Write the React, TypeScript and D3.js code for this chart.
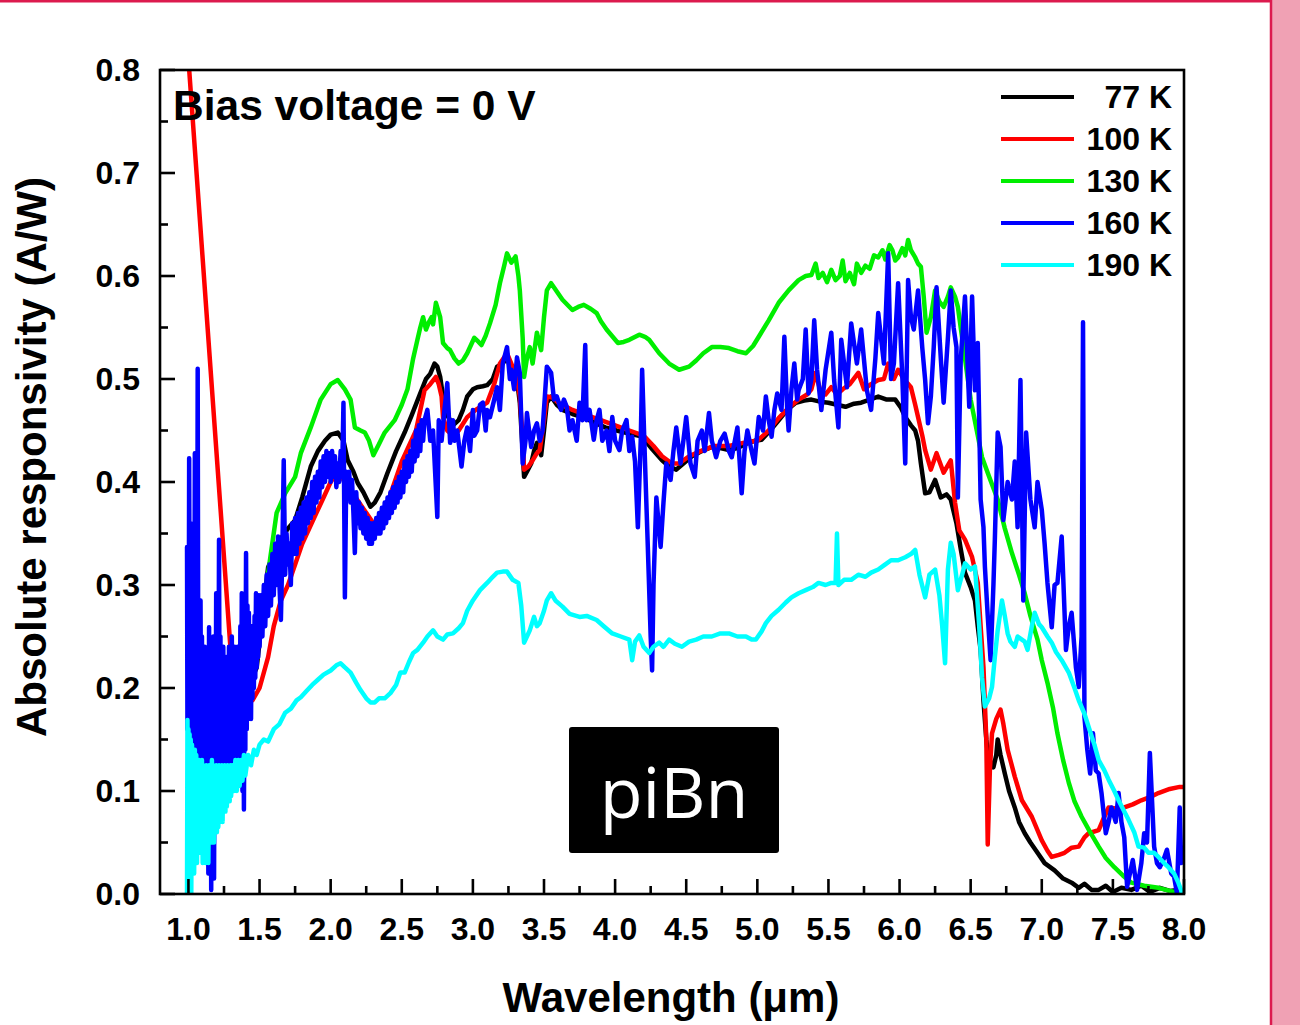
import React from 'react';
import * as d3 from 'd3';

type P = [number, number];

// Wavelength (µm), absolute responsivity (A/W)
const K77: P[] = [
  [1.35, 0.21], [1.42, 0.2], [1.48, 0.22], [1.52, 0.27], [1.56, 0.317], [1.6, 0.33], [1.65, 0.345], [1.7, 0.355],
  [1.75, 0.363], [1.8, 0.385], [1.86, 0.415], [1.91, 0.43], [1.96, 0.44], [2.0, 0.446], [2.05, 0.448], [2.09, 0.44],
  [2.12, 0.421], [2.16, 0.41], [2.19, 0.399], [2.23, 0.39], [2.28, 0.376], [2.31, 0.38], [2.35, 0.39], [2.4, 0.409],
  [2.46, 0.43], [2.52, 0.448], [2.57, 0.465], [2.63, 0.486], [2.67, 0.5], [2.7, 0.505], [2.73, 0.515], [2.75, 0.512],
  [2.77, 0.502], [2.79, 0.483], [2.82, 0.465], [2.86, 0.455], [2.9, 0.46], [2.93, 0.47], [2.96, 0.483], [3.0, 0.49],
  [3.03, 0.492], [3.07, 0.493], [3.1, 0.494], [3.14, 0.5], [3.17, 0.512], [3.21, 0.515], [3.24, 0.521], [3.26, 0.512],
  [3.28, 0.502], [3.31, 0.499], [3.33, 0.477], [3.35, 0.43], [3.36, 0.405], [3.38, 0.41], [3.41, 0.418], [3.43, 0.43],
  [3.45, 0.438], [3.48, 0.426], [3.5, 0.45], [3.52, 0.477], [3.55, 0.483], [3.59, 0.475], [3.63, 0.47], [3.7, 0.466],
  [3.77, 0.463], [3.85, 0.458], [3.93, 0.453], [4.01, 0.45], [4.1, 0.447], [4.19, 0.444], [4.26, 0.432], [4.33, 0.421],
  [4.38, 0.415], [4.43, 0.412], [4.48, 0.418], [4.54, 0.425], [4.61, 0.43], [4.68, 0.434], [4.74, 0.433], [4.8, 0.431],
  [4.86, 0.433], [4.92, 0.437], [4.98, 0.44], [5.03, 0.441], [5.09, 0.45], [5.15, 0.46], [5.21, 0.47], [5.27, 0.477],
  [5.33, 0.479], [5.38, 0.48], [5.44, 0.478], [5.5, 0.477], [5.56, 0.475], [5.62, 0.473], [5.68, 0.476], [5.73, 0.477],
  [5.79, 0.48], [5.85, 0.483], [5.91, 0.48], [5.97, 0.48], [6.01, 0.472], [6.04, 0.463], [6.08, 0.455], [6.11, 0.45],
  [6.13, 0.44], [6.15, 0.418], [6.18, 0.389], [6.21, 0.39], [6.25, 0.402], [6.29, 0.385], [6.33, 0.388], [6.36, 0.383],
  [6.4, 0.36], [6.43, 0.335], [6.46, 0.312], [6.5, 0.298], [6.53, 0.285], [6.55, 0.26], [6.57, 0.237], [6.59, 0.188],
  [6.61, 0.15], [6.62, 0.137], [6.64, 0.128], [6.66, 0.123], [6.68, 0.135], [6.69, 0.15], [6.71, 0.135], [6.74, 0.117],
  [6.77, 0.1], [6.81, 0.084], [6.84, 0.07], [6.88, 0.059], [6.92, 0.05], [6.97, 0.04], [7.02, 0.03], [7.09, 0.023],
  [7.15, 0.015], [7.21, 0.011], [7.26, 0.006], [7.3, 0.01], [7.35, 0.004], [7.4, 0.004], [7.45, 0.008], [7.5, 0.002],
  [7.56, 0.006], [7.63, 0.004], [7.7, 0.008], [7.76, 0.002], [7.83, 0.006], [7.9, 0.003], [7.96, 0.004],
];

const K100: P[] = [
  [0.995, 0.82], [1.3, 0.23], [1.38, 0.2], [1.45, 0.188], [1.5, 0.2], [1.56, 0.23], [1.6, 0.26], [1.65, 0.285],
  [1.7, 0.3], [1.75, 0.32], [1.8, 0.34], [1.85, 0.355], [1.9, 0.37], [1.95, 0.385], [2.0, 0.4], [2.05, 0.41],
  [2.1, 0.4], [2.15, 0.39], [2.2, 0.38], [2.25, 0.37], [2.3, 0.36], [2.35, 0.365], [2.4, 0.38], [2.45, 0.4],
  [2.5, 0.42], [2.55, 0.435], [2.6, 0.45], [2.66, 0.489], [2.7, 0.495], [2.74, 0.502], [2.76, 0.495], [2.78, 0.483],
  [2.79, 0.463], [2.82, 0.45], [2.86, 0.445], [2.9, 0.45], [2.96, 0.463], [3.02, 0.47], [3.1, 0.477], [3.15, 0.495],
  [3.19, 0.515], [3.24, 0.525], [3.27, 0.515], [3.29, 0.508], [3.31, 0.5], [3.33, 0.483], [3.35, 0.44], [3.36, 0.412],
  [3.39, 0.415], [3.42, 0.421], [3.45, 0.428], [3.47, 0.431], [3.5, 0.46], [3.52, 0.483], [3.56, 0.482], [3.6, 0.477],
  [3.7, 0.47], [3.8, 0.465], [3.9, 0.46], [4.0, 0.455], [4.1, 0.45], [4.2, 0.445], [4.27, 0.435], [4.33, 0.425],
  [4.4, 0.418], [4.45, 0.418], [4.52, 0.425], [4.6, 0.43], [4.7, 0.435], [4.8, 0.435], [4.9, 0.438], [5.0, 0.44],
  [5.08, 0.45], [5.15, 0.462], [5.22, 0.472], [5.29, 0.48], [5.35, 0.485], [5.38, 0.49], [5.41, 0.506], [5.44, 0.49],
  [5.48, 0.485], [5.52, 0.492], [5.56, 0.485], [5.6, 0.49], [5.65, 0.495], [5.71, 0.506], [5.75, 0.49], [5.8, 0.495],
  [5.85, 0.499], [5.89, 0.5], [5.92, 0.515], [5.96, 0.5], [5.99, 0.509], [6.03, 0.5], [6.08, 0.492], [6.11, 0.475],
  [6.13, 0.463], [6.16, 0.445], [6.18, 0.431], [6.22, 0.412], [6.26, 0.428], [6.31, 0.409], [6.36, 0.421], [6.39, 0.38],
  [6.42, 0.353], [6.46, 0.344], [6.51, 0.327], [6.55, 0.302], [6.57, 0.26], [6.59, 0.22], [6.61, 0.15], [6.62, 0.048],
  [6.635, 0.12], [6.65, 0.156], [6.68, 0.17], [6.71, 0.179], [6.73, 0.165], [6.76, 0.14], [6.81, 0.114], [6.86, 0.091],
  [6.93, 0.075], [7.0, 0.052], [7.04, 0.042], [7.07, 0.036], [7.12, 0.038], [7.16, 0.04], [7.21, 0.045], [7.26, 0.046],
  [7.3, 0.055], [7.33, 0.059], [7.4, 0.062], [7.44, 0.075], [7.47, 0.084], [7.52, 0.083], [7.58, 0.084], [7.64, 0.087],
  [7.7, 0.091], [7.76, 0.094], [7.82, 0.098], [7.9, 0.102], [7.97, 0.104], [8.0, 0.104],
];

const K130: P[] = [
  [1.4, 0.22], [1.47, 0.26], [1.54, 0.292], [1.58, 0.331], [1.62, 0.37], [1.68, 0.389], [1.75, 0.405], [1.79, 0.428],
  [1.86, 0.453], [1.93, 0.48], [2.0, 0.495], [2.05, 0.499], [2.1, 0.49], [2.14, 0.48], [2.17, 0.453], [2.21, 0.45],
  [2.24, 0.448], [2.27, 0.44], [2.3, 0.426], [2.34, 0.437], [2.38, 0.448], [2.45, 0.46], [2.5, 0.475], [2.54, 0.49],
  [2.58, 0.52], [2.61, 0.538], [2.63, 0.55], [2.65, 0.56], [2.67, 0.548], [2.69, 0.555], [2.71, 0.56], [2.72, 0.553],
  [2.74, 0.574], [2.77, 0.56], [2.79, 0.535], [2.82, 0.53], [2.84, 0.528], [2.87, 0.52], [2.9, 0.515], [2.93, 0.518],
  [2.96, 0.525], [3.01, 0.54], [3.04, 0.536], [3.06, 0.533], [3.09, 0.542], [3.12, 0.554], [3.16, 0.572], [3.19, 0.593],
  [3.22, 0.61], [3.24, 0.622], [3.27, 0.613], [3.3, 0.619], [3.32, 0.6], [3.33, 0.586], [3.35, 0.54], [3.36, 0.502],
  [3.38, 0.52], [3.4, 0.531], [3.42, 0.515], [3.45, 0.545], [3.48, 0.528], [3.5, 0.56], [3.52, 0.586], [3.55, 0.593],
  [3.59, 0.585], [3.63, 0.577], [3.7, 0.567], [3.74, 0.57], [3.78, 0.572], [3.83, 0.568], [3.87, 0.564], [3.9, 0.556],
  [3.94, 0.548], [4.02, 0.535], [4.06, 0.536], [4.1, 0.538], [4.17, 0.543], [4.21, 0.541], [4.24, 0.538], [4.31, 0.525],
  [4.38, 0.515], [4.45, 0.509], [4.52, 0.512], [4.57, 0.518], [4.62, 0.525], [4.68, 0.531], [4.74, 0.531], [4.8, 0.53],
  [4.86, 0.527], [4.92, 0.525], [4.97, 0.532], [5.01, 0.541], [5.08, 0.557], [5.15, 0.574], [5.22, 0.586], [5.29, 0.596],
  [5.34, 0.6], [5.38, 0.601], [5.41, 0.612], [5.43, 0.598], [5.46, 0.603], [5.49, 0.594], [5.52, 0.606], [5.55, 0.596],
  [5.58, 0.6], [5.6, 0.615], [5.62, 0.595], [5.65, 0.603], [5.68, 0.592], [5.7, 0.612], [5.73, 0.603], [5.76, 0.61],
  [5.79, 0.607], [5.82, 0.62], [5.85, 0.618], [5.88, 0.625], [5.9, 0.616], [5.93, 0.63], [5.95, 0.625], [5.97, 0.615],
  [5.99, 0.618], [6.02, 0.627], [6.04, 0.62], [6.06, 0.635], [6.08, 0.625], [6.11, 0.618], [6.13, 0.612], [6.15, 0.609],
  [6.17, 0.58], [6.19, 0.545], [6.22, 0.56], [6.25, 0.586], [6.28, 0.575], [6.31, 0.57], [6.34, 0.58], [6.36, 0.589],
  [6.39, 0.58], [6.41, 0.57], [6.45, 0.53], [6.5, 0.48], [6.55, 0.445], [6.58, 0.424], [6.63, 0.405], [6.69, 0.383],
  [6.74, 0.355], [6.79, 0.331], [6.84, 0.31], [6.88, 0.292], [6.92, 0.27], [6.97, 0.247], [7.0, 0.227], [7.04, 0.205],
  [7.08, 0.18], [7.11, 0.156], [7.15, 0.13], [7.19, 0.108], [7.23, 0.09], [7.28, 0.075], [7.34, 0.06], [7.4, 0.046],
  [7.45, 0.035], [7.51, 0.026], [7.57, 0.018], [7.63, 0.011], [7.72, 0.008], [7.82, 0.006], [7.9, 0.003], [7.97, 0.001],
];

const K160: P[] = [
  [0.99, 0.337], [0.993, 0.16], [0.997, 0.3], [1.0, 0.1], [1.005, 0.423], [1.01, 0.15], [1.015, 0.36], [1.02, 0.12],
  [1.025, 0.3], [1.03, 0.14], [1.035, 0.33], [1.04, 0.11], [1.045, 0.428], [1.05, 0.13], [1.055, 0.32], [1.06, 0.12],
  [1.065, 0.51], [1.07, 0.12], [1.075, 0.28], [1.08, 0.1], [1.085, 0.285], [1.09, 0.09], [1.095, 0.25], [1.1, 0.05],
  [1.105, 0.22], [1.11, 0.08], [1.115, 0.24], [1.12, 0.04], [1.125, 0.2], [1.13, 0.06], [1.135, 0.23], [1.14, 0.02],
  [1.145, 0.259], [1.15, 0.05], [1.155, 0.2], [1.16, 0.004], [1.165, 0.23], [1.17, 0.06], [1.175, 0.25], [1.18, 0.015],
  [1.185, 0.21], [1.19, 0.09], [1.195, 0.292], [1.2, 0.11], [1.205, 0.26], [1.21, 0.12], [1.215, 0.344], [1.22, 0.11],
  [1.225, 0.25], [1.23, 0.12], [1.235, 0.22], [1.24, 0.11], [1.245, 0.24], [1.25, 0.13], [1.255, 0.2], [1.26, 0.11],
  [1.265, 0.23], [1.27, 0.12], [1.275, 0.21], [1.28, 0.1], [1.285, 0.24], [1.29, 0.12], [1.295, 0.22], [1.3, 0.13],
  [1.305, 0.25], [1.31, 0.11], [1.315, 0.23], [1.32, 0.12], [1.325, 0.24], [1.33, 0.13], [1.335, 0.22], [1.34, 0.12],
  [1.345, 0.24], [1.35, 0.14], [1.355, 0.23], [1.36, 0.13], [1.365, 0.26], [1.37, 0.12], [1.375, 0.292], [1.38, 0.1],
  [1.385, 0.27], [1.39, 0.082], [1.395, 0.22], [1.4, 0.14], [1.405, 0.331], [1.41, 0.16], [1.415, 0.28], [1.42, 0.17],
  [1.425, 0.273], [1.43, 0.18], [1.435, 0.25], [1.44, 0.17], [1.445, 0.26], [1.45, 0.19], [1.455, 0.253], [1.46, 0.2],
  [1.465, 0.27], [1.47, 0.21], [1.475, 0.292], [1.48, 0.22], [1.485, 0.28], [1.49, 0.23], [1.495, 0.29], [1.5, 0.24],
  [1.51, 0.29], [1.52, 0.25], [1.53, 0.3], [1.54, 0.26], [1.55, 0.31], [1.56, 0.27], [1.57, 0.32], [1.58, 0.28],
  [1.59, 0.33], [1.6, 0.29], [1.61, 0.34], [1.62, 0.3], [1.63, 0.347], [1.64, 0.3], [1.65, 0.266], [1.66, 0.33],
  [1.67, 0.421], [1.68, 0.31], [1.69, 0.35], [1.7, 0.32], [1.71, 0.34], [1.72, 0.3], [1.73, 0.36], [1.74, 0.33],
  [1.75, 0.365], [1.76, 0.33], [1.77, 0.37], [1.78, 0.34], [1.79, 0.375], [1.8, 0.345], [1.81, 0.38], [1.82, 0.35],
  [1.83, 0.385], [1.84, 0.36], [1.85, 0.39], [1.86, 0.365], [1.87, 0.4], [1.88, 0.37], [1.89, 0.405], [1.9, 0.38],
  [1.91, 0.41], [1.92, 0.385], [1.93, 0.42], [1.94, 0.395], [1.95, 0.425], [1.96, 0.4], [1.97, 0.43], [1.98, 0.405],
  [1.99, 0.428], [2.0, 0.4], [2.01, 0.43], [2.02, 0.405], [2.03, 0.425], [2.04, 0.395], [2.05, 0.418], [2.06, 0.4],
  [2.07, 0.43], [2.08, 0.405], [2.09, 0.477], [2.1, 0.288], [2.11, 0.41], [2.12, 0.39], [2.13, 0.41], [2.14, 0.38],
  [2.15, 0.402], [2.16, 0.37], [2.17, 0.331], [2.18, 0.39], [2.19, 0.36], [2.2, 0.38], [2.21, 0.355], [2.22, 0.375],
  [2.23, 0.35], [2.24, 0.37], [2.25, 0.345], [2.26, 0.365], [2.27, 0.34], [2.28, 0.36], [2.29, 0.34], [2.3, 0.36],
  [2.31, 0.345], [2.32, 0.365], [2.33, 0.35], [2.34, 0.37], [2.35, 0.35], [2.36, 0.375], [2.37, 0.355], [2.38, 0.38],
  [2.39, 0.36], [2.4, 0.385], [2.41, 0.365], [2.42, 0.39], [2.43, 0.37], [2.44, 0.395], [2.45, 0.375], [2.46, 0.4],
  [2.47, 0.38], [2.48, 0.405], [2.49, 0.385], [2.5, 0.41], [2.51, 0.39], [2.52, 0.42], [2.53, 0.4], [2.54, 0.425],
  [2.55, 0.405], [2.56, 0.43], [2.57, 0.41], [2.58, 0.44], [2.59, 0.42], [2.6, 0.45], [2.61, 0.425], [2.62, 0.455],
  [2.63, 0.43], [2.64, 0.46], [2.65, 0.44], [2.66, 0.46], [2.68, 0.47], [2.7, 0.44], [2.72, 0.45], [2.75, 0.366],
  [2.76, 0.46], [2.78, 0.44], [2.8, 0.47], [2.82, 0.496], [2.84, 0.438], [2.86, 0.46], [2.87, 0.44], [2.89, 0.45],
  [2.92, 0.415], [2.94, 0.44], [2.96, 0.453], [2.98, 0.43], [3.0, 0.47], [3.01, 0.445], [3.03, 0.45], [3.05, 0.475],
  [3.07, 0.477], [3.09, 0.45], [3.1, 0.47], [3.12, 0.463], [3.15, 0.48], [3.17, 0.492], [3.19, 0.47], [3.21, 0.515],
  [3.24, 0.531], [3.26, 0.5], [3.27, 0.509], [3.29, 0.49], [3.31, 0.521], [3.33, 0.506], [3.35, 0.418], [3.37, 0.44],
  [3.38, 0.467], [3.41, 0.434], [3.43, 0.45], [3.45, 0.457], [3.47, 0.44], [3.49, 0.45], [3.52, 0.512], [3.55, 0.506],
  [3.57, 0.48], [3.59, 0.483], [3.62, 0.47], [3.64, 0.48], [3.66, 0.473], [3.68, 0.45], [3.7, 0.46], [3.73, 0.44],
  [3.75, 0.477], [3.77, 0.46], [3.79, 0.533], [3.8, 0.46], [3.82, 0.47], [3.85, 0.441], [3.87, 0.46], [3.89, 0.47],
  [3.91, 0.44], [3.94, 0.45], [3.96, 0.43], [3.98, 0.463], [4.0, 0.44], [4.03, 0.431], [4.05, 0.45], [4.08, 0.46],
  [4.1, 0.43], [4.12, 0.444], [4.14, 0.42], [4.16, 0.356], [4.18, 0.44], [4.19, 0.509], [4.21, 0.42], [4.23, 0.337],
  [4.25, 0.25], [4.26, 0.217], [4.27, 0.3], [4.29, 0.385], [4.32, 0.337], [4.34, 0.38], [4.36, 0.418], [4.39, 0.402],
  [4.41, 0.43], [4.43, 0.453], [4.46, 0.418], [4.48, 0.44], [4.5, 0.463], [4.53, 0.418], [4.56, 0.405], [4.58, 0.44],
  [4.61, 0.45], [4.63, 0.43], [4.66, 0.467], [4.68, 0.44], [4.71, 0.424], [4.74, 0.44], [4.77, 0.447], [4.8, 0.43],
  [4.82, 0.424], [4.86, 0.453], [4.89, 0.389], [4.91, 0.43], [4.93, 0.45], [4.96, 0.43], [4.98, 0.418], [5.01, 0.463],
  [5.04, 0.45], [5.06, 0.483], [5.08, 0.46], [5.1, 0.444], [5.12, 0.47], [5.14, 0.486], [5.17, 0.47], [5.19, 0.541],
  [5.21, 0.47], [5.22, 0.45], [5.24, 0.49], [5.26, 0.515], [5.28, 0.48], [5.29, 0.489], [5.32, 0.5], [5.34, 0.548],
  [5.36, 0.486], [5.38, 0.5], [5.4, 0.557], [5.42, 0.509], [5.45, 0.47], [5.48, 0.509], [5.52, 0.545], [5.54, 0.499],
  [5.57, 0.453], [5.59, 0.538], [5.63, 0.492], [5.66, 0.554], [5.7, 0.515], [5.73, 0.548], [5.77, 0.489], [5.8, 0.47],
  [5.83, 0.52], [5.85, 0.564], [5.89, 0.515], [5.92, 0.622], [5.94, 0.5], [5.96, 0.515], [5.99, 0.593], [6.02, 0.5],
  [6.04, 0.418], [6.06, 0.596], [6.08, 0.56], [6.1, 0.548], [6.13, 0.586], [6.16, 0.53], [6.18, 0.499], [6.2, 0.457],
  [6.22, 0.483], [6.24, 0.53], [6.26, 0.589], [6.29, 0.52], [6.31, 0.477], [6.34, 0.54], [6.36, 0.586], [6.38, 0.55],
  [6.4, 0.531], [6.41, 0.385], [6.43, 0.518], [6.46, 0.58], [6.49, 0.473], [6.51, 0.58], [6.53, 0.489], [6.55, 0.535],
  [6.57, 0.383], [6.59, 0.356], [6.6, 0.318], [6.62, 0.27], [6.64, 0.227], [6.66, 0.3], [6.67, 0.344], [6.69, 0.448],
  [6.71, 0.434], [6.73, 0.363], [6.76, 0.4], [6.79, 0.383], [6.81, 0.42], [6.83, 0.356], [6.85, 0.499], [6.87, 0.285],
  [6.89, 0.448], [6.92, 0.383], [6.95, 0.356], [6.97, 0.4], [7.0, 0.373], [7.02, 0.34], [7.04, 0.302], [7.07, 0.259],
  [7.09, 0.3], [7.11, 0.302], [7.14, 0.347], [7.17, 0.237], [7.19, 0.26], [7.21, 0.273], [7.24, 0.22], [7.26, 0.201],
  [7.28, 0.25], [7.29, 0.555], [7.3, 0.172], [7.32, 0.14], [7.34, 0.117], [7.36, 0.156], [7.38, 0.12], [7.4, 0.117],
  [7.42, 0.098], [7.45, 0.059], [7.47, 0.07], [7.49, 0.084], [7.52, 0.07], [7.54, 0.098], [7.56, 0.07], [7.58, 0.055],
  [7.6, 0.007], [7.62, 0.02], [7.64, 0.033], [7.67, 0.004], [7.7, 0.03], [7.72, 0.059], [7.74, 0.05], [7.76, 0.137],
  [7.79, 0.046], [7.81, 0.03], [7.83, 0.026], [7.86, 0.035], [7.88, 0.043], [7.91, 0.02], [7.93, 0.017], [7.95, 0.001],
  [7.97, 0.084], [7.98, 0.03],
];

const K190: P[] = [
  [0.99, 0.0], [0.993, 0.169], [0.996, 0.02], [1.0, 0.16], [1.004, 0.0], [1.008, 0.155], [1.012, 0.03], [1.016, 0.15],
  [1.02, 0.0], [1.025, 0.145], [1.03, 0.03], [1.035, 0.14], [1.04, 0.02], [1.045, 0.14], [1.05, 0.04], [1.055, 0.135],
  [1.06, 0.03], [1.065, 0.13], [1.07, 0.05], [1.075, 0.13], [1.08, 0.04], [1.085, 0.125], [1.09, 0.05], [1.095, 0.13],
  [1.1, 0.03], [1.105, 0.125], [1.11, 0.04], [1.115, 0.12], [1.12, 0.03], [1.125, 0.125], [1.13, 0.05], [1.135, 0.12],
  [1.14, 0.03], [1.145, 0.125], [1.15, 0.06], [1.155, 0.12], [1.16, 0.05], [1.165, 0.13], [1.17, 0.06], [1.175, 0.125],
  [1.18, 0.05], [1.185, 0.12], [1.19, 0.07], [1.195, 0.125], [1.2, 0.06], [1.205, 0.12], [1.21, 0.065], [1.215, 0.125],
  [1.22, 0.07], [1.225, 0.12], [1.23, 0.075], [1.235, 0.125], [1.24, 0.07], [1.245, 0.12], [1.25, 0.08], [1.255, 0.125],
  [1.26, 0.08], [1.265, 0.12], [1.27, 0.085], [1.275, 0.125], [1.28, 0.09], [1.285, 0.12], [1.29, 0.09], [1.295, 0.125],
  [1.3, 0.095], [1.31, 0.125], [1.32, 0.1], [1.33, 0.13], [1.34, 0.1], [1.35, 0.13], [1.36, 0.105], [1.37, 0.13],
  [1.38, 0.11], [1.39, 0.135], [1.4, 0.115], [1.42, 0.135], [1.44, 0.125], [1.46, 0.14], [1.48, 0.135], [1.5, 0.145],
  [1.53, 0.15], [1.56, 0.148], [1.6, 0.16], [1.64, 0.165], [1.68, 0.176], [1.72, 0.18], [1.76, 0.188], [1.79, 0.191],
  [1.83, 0.197], [1.87, 0.203], [1.91, 0.208], [1.95, 0.213], [2.0, 0.217], [2.04, 0.222], [2.07, 0.224], [2.1, 0.22],
  [2.14, 0.215], [2.18, 0.205], [2.21, 0.198], [2.25, 0.19], [2.28, 0.186], [2.31, 0.186], [2.34, 0.19], [2.38, 0.19],
  [2.42, 0.195], [2.46, 0.203], [2.49, 0.215], [2.52, 0.215], [2.55, 0.225], [2.58, 0.234], [2.61, 0.237], [2.65, 0.244],
  [2.68, 0.25], [2.72, 0.256], [2.75, 0.25], [2.79, 0.247], [2.82, 0.252], [2.86, 0.253], [2.9, 0.258], [2.93, 0.263],
  [2.96, 0.275], [3.0, 0.285], [3.05, 0.295], [3.1, 0.302], [3.14, 0.308], [3.17, 0.312], [3.21, 0.313], [3.24, 0.313],
  [3.28, 0.305], [3.32, 0.302], [3.34, 0.28], [3.36, 0.244], [3.38, 0.25], [3.4, 0.256], [3.43, 0.269], [3.45, 0.26],
  [3.47, 0.263], [3.5, 0.275], [3.52, 0.285], [3.55, 0.292], [3.58, 0.285], [3.63, 0.279], [3.68, 0.272], [3.75, 0.269],
  [3.8, 0.27], [3.87, 0.266], [3.92, 0.26], [3.98, 0.253], [4.04, 0.25], [4.1, 0.247], [4.12, 0.227], [4.14, 0.245],
  [4.17, 0.251], [4.2, 0.24], [4.24, 0.234], [4.27, 0.24], [4.31, 0.244], [4.34, 0.24], [4.38, 0.247], [4.42, 0.243],
  [4.47, 0.24], [4.52, 0.245], [4.57, 0.247], [4.62, 0.25], [4.68, 0.25], [4.74, 0.253], [4.8, 0.253], [4.86, 0.25],
  [4.92, 0.25], [4.96, 0.247], [4.99, 0.247], [5.03, 0.255], [5.06, 0.263], [5.1, 0.27], [5.15, 0.276], [5.2, 0.283],
  [5.24, 0.288], [5.29, 0.292], [5.34, 0.295], [5.39, 0.298], [5.43, 0.302], [5.48, 0.3], [5.52, 0.302], [5.55, 0.302],
  [5.56, 0.35], [5.57, 0.3], [5.61, 0.305], [5.66, 0.305], [5.71, 0.31], [5.76, 0.308], [5.8, 0.312], [5.85, 0.315],
  [5.9, 0.32], [5.94, 0.324], [5.99, 0.324], [6.04, 0.327], [6.08, 0.33], [6.11, 0.334], [6.14, 0.31], [6.18, 0.288],
  [6.21, 0.31], [6.25, 0.315], [6.28, 0.29], [6.3, 0.26], [6.32, 0.224], [6.34, 0.315], [6.36, 0.341], [6.38, 0.33],
  [6.41, 0.295], [6.44, 0.31], [6.46, 0.321], [6.5, 0.315], [6.53, 0.318], [6.56, 0.26], [6.58, 0.21], [6.6, 0.182],
  [6.63, 0.19], [6.65, 0.201], [6.67, 0.23], [6.69, 0.256], [6.72, 0.285], [6.74, 0.27], [6.76, 0.253], [6.78, 0.245],
  [6.81, 0.24], [6.83, 0.25], [6.86, 0.247], [6.88, 0.245], [6.9, 0.237], [6.93, 0.26], [6.95, 0.273], [6.98, 0.262],
  [7.0, 0.259], [7.04, 0.25], [7.07, 0.244], [7.1, 0.235], [7.14, 0.227], [7.19, 0.215], [7.23, 0.2], [7.26, 0.188],
  [7.3, 0.175], [7.33, 0.162], [7.37, 0.145], [7.4, 0.13], [7.44, 0.12], [7.47, 0.111], [7.51, 0.1], [7.54, 0.091],
  [7.58, 0.08], [7.61, 0.072], [7.65, 0.06], [7.68, 0.046], [7.72, 0.045], [7.75, 0.04], [7.79, 0.04], [7.82, 0.036],
  [7.86, 0.03], [7.89, 0.026], [7.93, 0.02], [7.96, 0.011], [7.99, 0.0],
];

const SERIES_LABELS = ['77 K', '100 K', '130 K', '160 K', '190 K'];
const SERIES_COLORS = ['#000000', '#ff0000', '#00ee00', '#0000ff', '#00ffff'];
const SERIES_DATA = [K77, K100, K130, K160, K190];

const X_TICKS = [1.0, 1.5, 2.0, 2.5, 3.0, 3.5, 4.0, 4.5, 5.0, 5.5, 6.0, 6.5, 7.0, 7.5, 8.0];
const X_MINOR = [1.25, 1.75, 2.25, 2.75, 3.25, 3.75, 4.25, 4.75, 5.25, 5.75, 6.25, 6.75, 7.25, 7.75];
const Y_TICKS = [0.0, 0.1, 0.2, 0.3, 0.4, 0.5, 0.6, 0.7, 0.8];
const Y_MINOR = [0.05, 0.15, 0.25, 0.35, 0.45, 0.55, 0.65, 0.75];

const FONT = '"Liberation Sans", Arial, sans-serif';

export default function App() {
  const L = 160, R = 1184, T = 70, B = 894;
  const x = d3.scaleLinear().domain([0.8, 8.0]).range([L, R]);
  const y = d3.scaleLinear().domain([0, 0.8]).range([B, T]);
  const line = d3.line<P>().x((d) => x(d[0])).y((d) => y(d[1]));

  return (
    <svg width={1300} height={1025} style={{ position: 'absolute', left: 0, top: 0, background: '#ffffff' }}
      fontFamily={FONT}>
      <defs>
        <clipPath id="plotclip">
          <rect x={L} y={T} width={R - L} height={B - T} />
        </clipPath>
      </defs>
      <rect x={0} y={0} width={1300} height={1025} fill="#ffffff" />
      {/* page frame */}
      <rect x={1272} y={0} width={28} height={1025} fill="#f0a1b4" />
      <line x1={1271} y1={0} x2={1271} y2={1025} stroke="#dc1a4e" strokeWidth={2.5} />
      <line x1={0} y1={1.2} x2={1272} y2={1.2} stroke="#dc1a4e" strokeWidth={2.5} />

      {/* data */}
      <g clipPath="url(#plotclip)" fill="none" strokeLinejoin="round" strokeLinecap="round">
        {SERIES_DATA.map((d, i) => (
          <path key={i} d={line(d) || ''} stroke={SERIES_COLORS[i]} strokeWidth={4.5} />
        ))}
      </g>

      {/* frame */}
      <rect x={L} y={T} width={R - L} height={B - T} fill="none" stroke="#000" strokeWidth={2.6} />

      {/* x ticks */}
      {X_TICKS.map((t) => (
        <g key={'xt' + t}>
          <line x1={x(t)} x2={x(t)} y1={B} y2={B - 15} stroke="#000" strokeWidth={2.6} />
          <text x={x(t)} y={940} textAnchor="middle" fontSize={32} fontWeight="bold">{t.toFixed(1)}</text>
        </g>
      ))}
      {X_MINOR.map((t) => (
        <line key={'xm' + t} x1={x(t)} x2={x(t)} y1={B} y2={B - 8} stroke="#000" strokeWidth={2.6} />
      ))}
      {/* y ticks */}
      {Y_TICKS.map((t) => (
        <g key={'yt' + t}>
          <line x1={L} x2={L + 15} y1={y(t)} y2={y(t)} stroke="#000" strokeWidth={2.6} />
          <text x={140} y={y(t) + 11} textAnchor="end" fontSize={32} fontWeight="bold">{t.toFixed(1)}</text>
        </g>
      ))}
      {Y_MINOR.map((t) => (
        <line key={'ym' + t} x1={L} x2={L + 8} y1={y(t)} y2={y(t)} stroke="#000" strokeWidth={2.6} />
      ))}

      {/* axis titles */}
      <text x={671} y={1012} textAnchor="middle" fontSize={42} fontWeight="bold">Wavelength (μm)</text>
      <text transform="translate(46,457) rotate(-90)" textAnchor="middle" fontSize={42} fontWeight="bold">
        Absolute responsivity (A/W)
      </text>

      {/* annotation */}
      <text x={173} y={120} fontSize={42.5} fontWeight="bold">Bias voltage = 0 V</text>

      {/* legend */}
      {SERIES_LABELS.map((lab, i) => (
        <g key={lab}>
          <line x1={1001} x2={1074} y1={97 + i * 42} y2={97 + i * 42} stroke={SERIES_COLORS[i]} strokeWidth={4} />
          <text x={1172} y={108 + i * 42} textAnchor="end" fontSize={32} fontWeight="bold">{lab}</text>
        </g>
      ))}

      {/* sample box */}
      <rect x={569} y={727} width={210} height={126} rx={3} fill="#000" />
      <text x={674} y={818} textAnchor="middle" fontSize={70} fill="#fff" fontFamily='"Open Sans", "Noto Sans", sans-serif'>piBn</text>
    </svg>
  );
}
